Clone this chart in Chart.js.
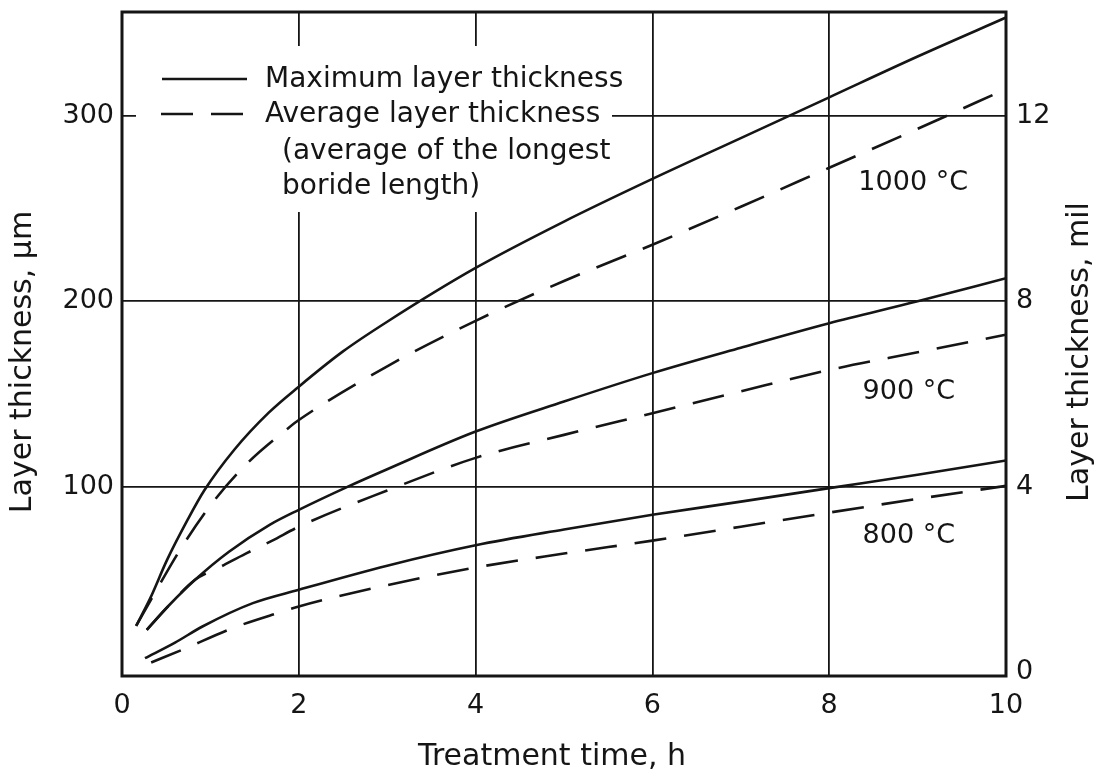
<!DOCTYPE html>
<html>
<head>
<meta charset="utf-8">
<title>Boride layer thickness vs treatment time</title>
<script src="https://cdn.jsdelivr.net/npm/chart.js@4.4.1/dist/chart.umd.min.js"></script>
<style>
  html, body { margin: 0; padding: 0; background: #fff; }
  #wrap { width: 1104px; height: 773px; }
</style>
</head>
<body>
<div id="wrap"><canvas id="chart" width="1104" height="773"></canvas></div>
<script>
// treatment time (h) and layer thickness (um)
const time1000Max = [0.16, 0.32, 0.51, 0.74, 0.93, 1.27, 1.66, 2, 2.5, 3, 4, 5, 6, 7, 8, 9, 10];
const thick1000Max = [25, 40, 60.6, 82, 98, 120, 140, 154, 173, 189, 218, 243, 266, 288, 310, 332, 353];

const time1000Avg = [0.16, 0.37, 0.68, 1.02, 1.42, 1.88, 2, 3, 4, 5, 6, 7, 8, 9, 10];
const thick1000Avg = [25, 42.7, 67.8, 91.2, 112.8, 131.6, 136, 165, 189.5, 211, 230.5, 251, 272, 293, 314.5];

const time900Max = [0.28, 0.53, 0.83, 1.21, 1.67, 2, 2.55, 3, 4, 5, 6, 7, 8, 9, 10];
const thick900Max = [22.9, 36, 50, 65, 79.5, 87.6, 100, 109.5, 129.8, 146, 161.3, 175, 188.2, 200, 212.5];

const time900Avg = [0.28, 0.53, 0.83, 1.1, 1.4, 1.7, 2, 3, 4, 5, 6, 7, 8, 9, 10];
const thick900Avg = [22.9, 36, 50, 56.5, 64, 71, 78.5, 98, 115.6, 128, 139.7, 151.5, 163, 172.5, 182];

const time800Max = [0.26, 0.6, 0.91, 1.48, 2, 3, 4, 5, 6, 7, 8, 9, 10];
const thick800Max = [7.6, 16, 24.7, 37.3, 44.5, 57.5, 68.5, 77, 84.9, 92, 99.3, 106.5, 114.2];

const time800Avg = [0.33, 0.68, 1.25, 1.82, 2, 3, 4, 5, 6, 7, 8, 9, 10];
const thick800Avg = [5.3, 12.1, 23.8, 32.8, 35.5, 47, 56.5, 64, 71, 78.5, 86.1, 93.5, 100.5];

const timeTicks = [0, 2, 4, 6, 8, 10];
const umTicks = [100, 200, 300];
const milTicks = [0, 4, 8, 12];
const UM_PER_MIL = 25;

const legendLines = ['Maximum layer thickness', 'Average layer thickness', '(average of the longest', 'boride length)'];
const curveLabels = ['1000 °C', '900 °C', '800 °C'];

const FONT = '"DejaVu Sans", sans-serif';
const INK = '#151515';
const DASH = [32, 18];

function toPoints(xs, ys) {
  return xs.map((x, i) => ({ x: x, y: ys[i] }));
}

function curve(label, xs, ys, dashed) {
  return {
    label: label,
    data: toPoints(xs, ys),
    borderColor: INK,
    borderWidth: 2.6,
    borderDash: dashed ? DASH : [],
    pointRadius: 0,
    fill: false,
    cubicInterpolationMode: 'monotone'
  };
}

// keep the plot box where the original has it
function noEdgePadding(scale) {
  scale.paddingTop = 0;
  scale.paddingBottom = 0;
}

// white box behind the key, drawn over the grid
const keyBox = {
  id: 'keyBox',
  beforeDatasetsDraw(chart) {
    const ctx = chart.ctx;
    ctx.save();
    ctx.fillStyle = '#fff';
    ctx.fillRect(136, 46, 612 - 136, 212 - 46);
    ctx.restore();
  },
  afterDraw(chart) {
    const ctx = chart.ctx;
    const area = chart.chartArea;
    ctx.save();

    // frame
    ctx.strokeStyle = INK;
    ctx.lineWidth = 3;
    ctx.strokeRect(area.left, area.top, area.right - area.left, area.bottom - area.top);

    // key samples
    ctx.lineWidth = 2.6;
    ctx.beginPath();
    ctx.moveTo(162, 79);
    ctx.lineTo(247, 79);
    ctx.stroke();
    ctx.setLineDash(DASH);
    ctx.beginPath();
    ctx.moveTo(161, 114);
    ctx.lineTo(247, 114);
    ctx.stroke();
    ctx.setLineDash([]);

    // key text
    ctx.fillStyle = INK;
    ctx.font = '28px ' + FONT;
    ctx.textBaseline = 'middle';
    ctx.textAlign = 'left';
    ctx.fillText(legendLines[0], 265, 80);
    ctx.fillText(legendLines[1], 265, 115);
    ctx.fillText(legendLines[2], 282, 152);
    ctx.fillText(legendLines[3], 282, 187);

    // temperature labels
    const xs = chart.scales.x;
    const ys = chart.scales.y;
    ctx.font = '27px ' + FONT;
    ctx.textAlign = 'center';
    ctx.fillText(curveLabels[0], xs.getPixelForValue(8.95), ys.getPixelForValue(264));
    ctx.fillText(curveLabels[1], xs.getPixelForValue(8.9), ys.getPixelForValue(151));
    ctx.fillText(curveLabels[2], xs.getPixelForValue(8.9), ys.getPixelForValue(73.5));

    // axis titles
    ctx.font = '30px ' + FONT;
    ctx.fillText('Treatment time, h', 552, 757);
    ctx.save();
    ctx.translate(23, 362);
    ctx.rotate(-Math.PI / 2);
    ctx.fillText('Layer thickness, µm', 0, 0);
    ctx.restore();
    ctx.save();
    ctx.translate(1080, 352);
    ctx.rotate(-Math.PI / 2);
    ctx.fillText('Layer thickness, mil', 0, 0);
    ctx.restore();

    ctx.restore();
  }
};

const Y_MIN = -2;
const Y_MAX = 356;

const ctx = document.getElementById('chart').getContext('2d');
const chart = new Chart(ctx, {
  type: 'line',
  data: {
    datasets: [
      curve('1000 °C max', time1000Max, thick1000Max, false),
      curve('1000 °C avg', time1000Avg, thick1000Avg, true),
      curve('900 °C max', time900Max, thick900Max, false),
      curve('900 °C avg', time900Avg, thick900Avg, true),
      curve('800 °C max', time800Max, thick800Max, false),
      curve('800 °C avg', time800Avg, thick800Avg, true)
    ]
  },
  options: {
    responsive: false,
    animation: false,
    devicePixelRatio: 1,
    layout: { padding: { top: 12, left: 0, right: 0, bottom: 0 } },
    plugins: {
      legend: { display: false },
      tooltip: { enabled: false }
    },
    scales: {
      x: {
        type: 'linear',
        min: 0,
        max: 10,
        afterBuildTicks: scale => { scale.ticks = timeTicks.map(v => ({ value: v })); },
        afterFit: scale => {
          scale.height = 97;
          scale.paddingLeft = 0;
          scale.paddingRight = 0;
        },
        ticks: {
          color: INK,
          font: { family: FONT, size: 27 },
          padding: 14,
          maxRotation: 0
        },
        grid: {
          drawTicks: false,
          color: INK,
          lineWidth: 1.8
        },
        border: { display: false }
      },
      y: {
        type: 'linear',
        position: 'left',
        min: Y_MIN,
        max: Y_MAX,
        afterBuildTicks: scale => { scale.ticks = umTicks.map(v => ({ value: v })); },
        afterFit: scale => {
          scale.width = 122;
          noEdgePadding(scale);
        },
        ticks: {
          color: INK,
          font: { family: FONT, size: 27 },
          padding: 8
        },
        grid: {
          drawTicks: false,
          color: INK,
          lineWidth: 1.8
        },
        border: { display: false }
      },
      y2: {
        type: 'linear',
        position: 'right',
        min: Y_MIN / UM_PER_MIL,
        max: Y_MAX / UM_PER_MIL,
        afterBuildTicks: scale => { scale.ticks = milTicks.map(v => ({ value: v })); },
        afterFit: scale => {
          scale.width = 98;
          noEdgePadding(scale);
        },
        ticks: {
          color: INK,
          font: { family: FONT, size: 27 },
          padding: 10
        },
        grid: { display: false, drawTicks: false },
        border: { display: false }
      }
    }
  },
  plugins: [keyBox]
});
</script>
</body>
</html>
